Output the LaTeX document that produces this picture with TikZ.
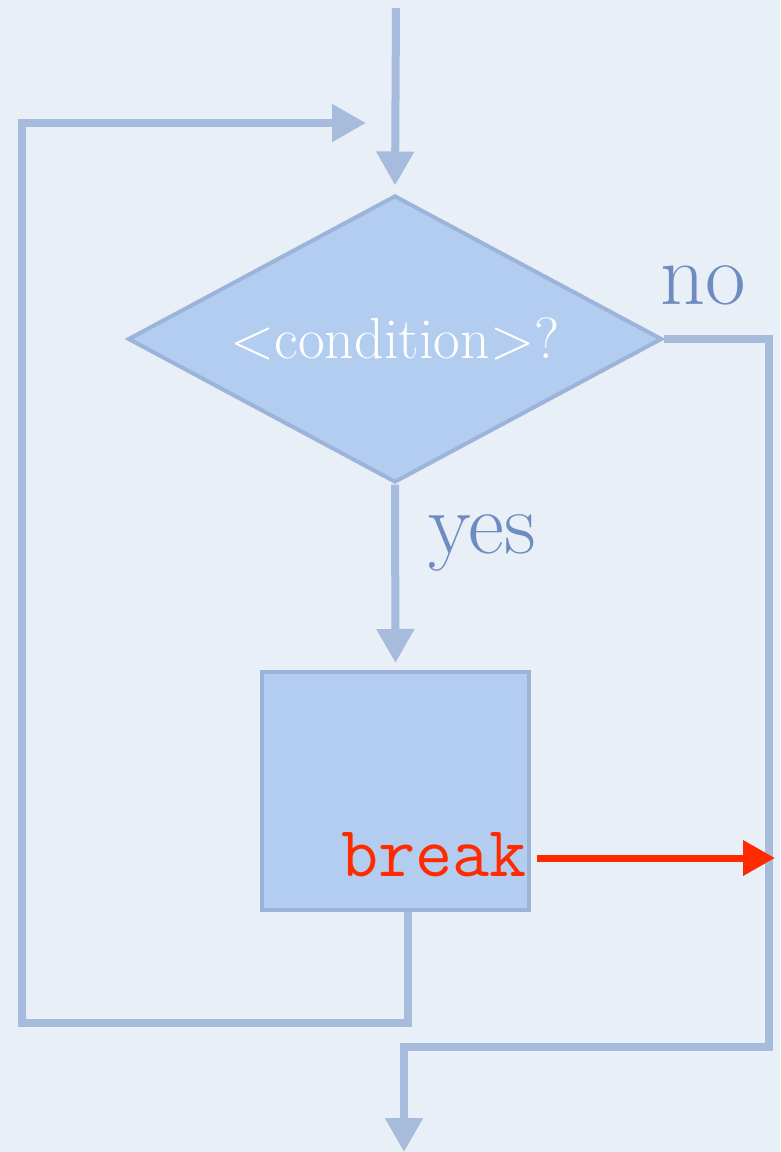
\documentclass[tikz,border=0pt]{standalone}
\usepackage{fontspec}
\usetikzlibrary{shapes.geometric,arrows.meta}
\definecolor{bgc}{HTML}{E9EFF7}
\definecolor{flow}{HTML}{A7BCDD}
\definecolor{boxfill}{HTML}{B3CDF1}
\definecolor{boxline}{HTML}{9CB4D9}
\definecolor{lbl}{HTML}{6E8CC2}
\definecolor{brk}{HTML}{FF2A00}
\tikzset{
  x=1pt, y=1pt,
  flowline/.style={draw=flow, line width=8pt, line join=miter},
  flowarrow/.style={flowline, -{Triangle[width=36pt,length=34pt]}},
  condshape/.style={diamond, fill=boxfill, draw=boxline, line width=4pt,
    minimum width=534pt, minimum height=287pt, inner sep=0pt},
  condtext/.style={text=white, font=\fontsize{58}{66}\selectfont, inner sep=0pt},
  bodybox/.style={rectangle, fill=boxfill, draw=boxline, line width=4pt,
    minimum width=267pt, minimum height=238pt, inner sep=0pt},
  branchlabel/.style={text=lbl, font=\fontsize{88}{96}\selectfont, inner sep=0pt},
  breaktext/.style={text=brk, font=\ttfamily\fontsize{72}{80}\selectfont, inner sep=0pt},
  breakarrow/.style={draw=brk, line width=7pt, -{Triangle[width=34pt,length=32pt]}},
}
\begin{document}
\begin{tikzpicture}
\fill[bgc] (0,0) rectangle (780,-1152);
\useasboundingbox (0,0) rectangle (780,-1152);

% nodes
\node[condshape, label={[condtext]center:{<condition>?}}] (cond) at (395,-339) {};
\node[bodybox] (body) at (395.5,-791) {};
\node[breaktext, anchor=east] (brk) at (527,-855) {break};
\node[branchlabel] (no) at (703,-285) {no};
\node[branchlabel] (yes) at (482,-543) {yes};

% coordinates
\coordinate (start) at (396,-8);
\coordinate (noA) at (769,-1047);
\coordinate (noB) at (404,-1047);
\coordinate (exit) at (404,-1152);
\coordinate (loopA) at (408,-1023);
\coordinate (loopB) at (22,-1023);
\coordinate (loopC) at (22,-123);
\coordinate (loopD) at (366,-123);
\coordinate (brkEnd) at (775,-858);

% connectors
\draw[flowarrow, shorten >=8pt] (start) -- (cond.north);
\draw[flowarrow, shorten >=7pt] (cond.south) -- (body.north);
\draw[flowarrow] (cond.east) -| (noA) -- (noB) -- (exit);
\draw[flowarrow] (body.south -| loopA) -- (loopA) -- (loopB) -- (loopC) -- (loopD);
\draw[breakarrow] ([xshift=10pt]brk.east |- brkEnd) -- (brkEnd);
\end{tikzpicture}
\end{document}
